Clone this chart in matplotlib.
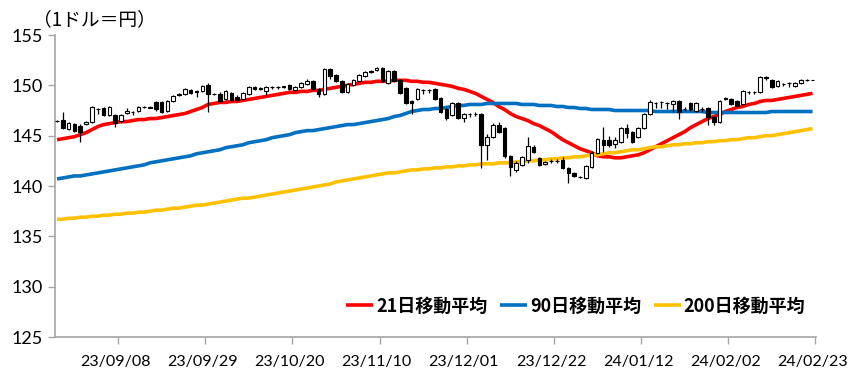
import matplotlib
matplotlib.use("Agg")
import matplotlib.pyplot as plt
import numpy as np
import pandas as pd

# trading days shown (weekdays)
dates = pd.bdate_range("2023-08-25", "2024-02-23")

# daily candles: open, high, low, close (yen per dollar)
opens = [146.5, 146.6, 145.7, 146.2, 146.0, 146.2, 146.4, 147.6, 147.7, 147.1,
         147.1, 146.5, 147.3, 147.4, 147.5, 147.8, 147.8, 148.3, 148.3, 147.5,
         148.4, 149.0, 149.1, 149.5, 149.4, 149.4, 150.0, 149.1, 149.1, 148.6,
         149.2, 148.8, 148.6, 149.1, 149.8, 149.6, 149.4, 149.8, 149.8, 149.8,
         150.0, 149.5, 149.8, 150.1, 150.4, 149.6, 149.1, 151.6, 151.0, 150.4,
         149.3, 150.0, 150.4, 150.9, 151.3, 151.5, 151.7, 150.2, 151.4, 150.5,
         149.7, 148.4, 148.6, 149.5, 149.5, 149.6, 148.7, 147.6, 147.1, 148.2,
         146.8, 147.2, 147.2, 147.2, 144.1, 144.9, 146.1, 145.8, 143.0, 141.6,
         142.1, 142.6, 143.9, 142.8, 142.2, 142.5, 142.5, 142.6, 141.8, 141.3,
         140.9, 140.8, 141.9, 143.3, 144.6, 144.6, 144.2, 144.4, 145.8, 145.4,
         144.9, 145.8, 147.2, 148.2, 148.3, 148.2, 148.1, 148.4, 147.6, 148.2,
         147.5, 147.6, 147.7, 146.9, 146.4, 148.6, 148.6, 148.4, 148.1, 149.3,
         149.3, 149.3, 150.8, 150.5, 149.9, 150.1, 150.2, 149.9, 150.2, 150.5,
         150.5]
highs = [146.6, 147.4, 146.4, 146.3, 146.2, 146.5, 147.9, 147.7, 147.8, 147.9,
         147.2, 147.2, 147.7, 147.5, 147.9, 147.9, 147.9, 148.4, 148.4, 148.5,
         149.0, 149.2, 149.7, 149.6, 149.5, 150.0, 150.2, 149.2, 149.3, 149.5,
         149.3, 149.0, 149.3, 149.9, 149.9, 149.8, 149.9, 149.9, 149.9, 149.9,
         150.1, 149.9, 150.3, 150.6, 150.5, 149.7, 151.7, 151.7, 151.1, 150.5,
         150.2, 150.6, 151.1, 151.4, 151.5, 151.8, 151.8, 151.5, 151.5, 150.6,
         149.8, 148.5, 149.7, 149.6, 149.6, 149.7, 148.8, 147.7, 148.3, 148.3,
         147.3, 147.3, 147.4, 147.3, 145.2, 146.3, 146.4, 145.9, 143.1, 142.5,
         143.0, 144.9, 144.1, 142.9, 142.5, 142.7, 142.7, 142.9, 141.9, 141.4,
         141.0, 142.1, 143.5, 144.8, 145.9, 145.0, 144.9, 145.9, 146.2, 145.5,
         145.9, 147.3, 148.5, 148.3, 148.4, 148.3, 148.5, 148.5, 147.8, 148.3,
         148.3, 147.8, 147.8, 147.0, 148.5, 148.8, 148.7, 148.5, 149.5, 149.4,
         149.4, 150.9, 150.9, 150.6, 150.5, 150.2, 150.3, 150.3, 150.6, 150.6,
         150.5]
lows = [146.4, 145.7, 145.6, 145.4, 144.4, 146.1, 146.3, 147.2, 147.0, 147.0,
        145.9, 146.3, 147.2, 147.1, 147.4, 147.7, 147.7, 147.5, 147.3, 147.4,
        148.3, 148.9, 149.0, 149.1, 148.8, 149.3, 147.4, 149.0, 148.3, 148.5,
        148.4, 148.3, 148.5, 149.0, 149.5, 149.5, 149.0, 149.6, 149.6, 149.7,
        149.5, 149.3, 149.7, 150.0, 149.5, 148.8, 149.0, 150.6, 150.3, 149.2,
        149.2, 149.9, 150.3, 150.8, 151.2, 151.4, 150.3, 150.1, 150.3, 149.1,
        148.1, 147.2, 148.5, 149.1, 149.2, 148.5, 147.3, 146.6, 147.0, 146.7,
        146.4, 146.9, 147.0, 141.8, 142.6, 144.8, 145.3, 142.8, 141.0, 141.4,
        142.0, 142.3, 143.3, 142.0, 142.1, 142.3, 142.3, 141.7, 140.3, 140.9,
        140.8, 140.7, 141.8, 143.2, 143.4, 143.9, 143.8, 144.3, 144.8, 144.3,
        144.8, 145.7, 147.1, 147.7, 147.7, 147.6, 147.4, 146.7, 147.5, 147.5,
        147.4, 147.4, 146.1, 146.1, 146.3, 148.5, 148.0, 147.8, 148.0, 149.1,
        149.1, 149.2, 150.5, 149.7, 149.8, 149.9, 149.8, 149.8, 150.1, 150.4,
        150.5]
closes = [146.5, 145.8, 146.3, 145.5, 145.4, 146.4, 147.8, 147.6, 147.1, 147.8,
          146.3, 147.1, 147.5, 147.4, 147.8, 147.8, 147.7, 147.6, 147.4, 148.4,
          148.9, 149.1, 149.6, 149.2, 149.3, 149.9, 149.1, 149.1, 148.4, 149.4,
          148.5, 148.5, 149.2, 149.8, 149.6, 149.7, 149.8, 149.8, 149.8, 149.9,
          149.6, 149.8, 150.2, 150.4, 149.6, 149.1, 151.6, 150.9, 150.4, 149.3,
          150.1, 150.5, 151.0, 151.3, 151.4, 151.7, 150.4, 151.4, 150.4, 149.2,
          148.2, 148.2, 149.6, 149.5, 149.5, 148.6, 147.4, 146.8, 148.2, 146.8,
          147.2, 147.2, 147.2, 144.1, 144.9, 146.1, 145.4, 143.0, 141.9, 142.3,
          142.9, 144.0, 143.4, 142.1, 142.4, 142.5, 142.5, 141.8, 141.3, 141.0,
          140.9, 142.0, 143.3, 144.7, 144.1, 144.1, 144.6, 145.8, 145.3, 144.4,
          145.8, 147.2, 148.3, 148.2, 148.3, 148.2, 148.4, 147.4, 147.6, 147.6,
          148.2, 147.6, 146.9, 146.4, 148.4, 148.7, 148.1, 147.9, 149.4, 149.3,
          149.3, 150.8, 150.7, 149.8, 150.4, 150.1, 150.2, 150.2, 150.5, 150.5,
          150.5]

ma21 = [144.6, 144.7, 144.8, 144.9, 145.1, 145.3, 145.6, 145.9, 146.1, 146.2,
        146.3, 146.4, 146.4, 146.5, 146.6, 146.6, 146.7, 146.7, 146.8, 146.9,
        147.0, 147.1, 147.2, 147.4, 147.6, 147.8, 148.1, 148.2, 148.3, 148.3,
        148.4, 148.4, 148.5, 148.6, 148.7, 148.8, 148.9, 149.0, 149.1, 149.2,
        149.3, 149.3, 149.4, 149.4, 149.5, 149.5, 149.6, 149.7, 149.8, 149.9,
        150.0, 150.1, 150.2, 150.3, 150.3, 150.4, 150.4, 150.4, 150.5, 150.5,
        150.5, 150.4, 150.4, 150.3, 150.3, 150.2, 150.1, 150.0, 149.9, 149.7,
        149.6, 149.4, 149.2, 148.9, 148.6, 148.3, 147.9, 147.6, 147.2, 146.9,
        146.7, 146.5, 146.2, 146.0, 145.7, 145.4, 145.0, 144.6, 144.3, 144.0,
        143.7, 143.5, 143.3, 143.0, 142.9, 142.9, 142.8, 142.8, 142.9, 143.0,
        143.1, 143.3, 143.6, 143.9, 144.2, 144.5, 144.8, 145.1, 145.4, 145.8,
        146.1, 146.4, 146.7, 146.9, 147.1, 147.4, 147.6, 147.8, 147.9, 148.1,
        148.2, 148.4, 148.5, 148.5, 148.6, 148.7, 148.8, 148.9, 149.0, 149.1,
        149.2]
ma90 = [140.7, 140.8, 140.9, 141.0, 141.0, 141.1, 141.2, 141.3, 141.4, 141.5,
        141.6, 141.7, 141.8, 141.9, 142.0, 142.1, 142.3, 142.4, 142.5, 142.6,
        142.7, 142.8, 142.9, 143.0, 143.2, 143.3, 143.4, 143.5, 143.6, 143.8,
        143.9, 144.0, 144.1, 144.3, 144.4, 144.5, 144.6, 144.8, 144.9, 145.0,
        145.1, 145.3, 145.4, 145.5, 145.5, 145.6, 145.7, 145.8, 145.9, 146.0,
        146.1, 146.1, 146.2, 146.3, 146.4, 146.5, 146.6, 146.7, 146.9, 147.0,
        147.2, 147.4, 147.5, 147.6, 147.6, 147.7, 147.7, 147.8, 147.9, 148.0,
        148.0, 148.1, 148.1, 148.1, 148.2, 148.2, 148.2, 148.2, 148.2, 148.2,
        148.1, 148.1, 148.1, 148.0, 148.0, 148.0, 147.9, 147.9, 147.8, 147.8,
        147.7, 147.7, 147.6, 147.6, 147.6, 147.6, 147.5, 147.5, 147.5, 147.5,
        147.5, 147.5, 147.5, 147.4, 147.4, 147.4, 147.4, 147.4, 147.4, 147.4,
        147.4, 147.4, 147.3, 147.3, 147.3, 147.3, 147.3, 147.3, 147.3, 147.3,
        147.3, 147.3, 147.3, 147.4, 147.4, 147.4, 147.4, 147.4, 147.4, 147.4,
        147.4]
ma200 = [136.7, 136.7, 136.8, 136.8, 136.9, 136.9, 137.0, 137.0, 137.1, 137.1,
         137.2, 137.2, 137.3, 137.3, 137.4, 137.4, 137.5, 137.6, 137.6, 137.7,
         137.8, 137.8, 137.9, 138.0, 138.1, 138.1, 138.2, 138.3, 138.4, 138.5,
         138.6, 138.7, 138.8, 138.8, 138.9, 139.0, 139.1, 139.2, 139.3, 139.4,
         139.5, 139.6, 139.7, 139.8, 139.9, 140.0, 140.1, 140.2, 140.4, 140.5,
         140.6, 140.7, 140.8, 140.9, 141.0, 141.1, 141.2, 141.3, 141.3, 141.4,
         141.5, 141.6, 141.6, 141.7, 141.7, 141.8, 141.8, 141.9, 141.9, 142.0,
         142.0, 142.1, 142.1, 142.2, 142.2, 142.2, 142.3, 142.3, 142.3, 142.4,
         142.4, 142.5, 142.5, 142.6, 142.6, 142.7, 142.7, 142.8, 142.8, 142.9,
         142.9, 143.0, 143.1, 143.1, 143.2, 143.3, 143.3, 143.4, 143.5, 143.6,
         143.6, 143.7, 143.8, 143.9, 143.9, 144.0, 144.1, 144.1, 144.2, 144.2,
         144.3, 144.3, 144.4, 144.4, 144.5, 144.5, 144.6, 144.6, 144.7, 144.8,
         144.8, 144.9, 145.0, 145.0, 145.1, 145.2, 145.3, 145.4, 145.5, 145.6,
         145.7]

ma_labels = ["21日移動平均", "90日移動平均", "200日移動平均"]
ma_colors = ["#FF0000", "#0070C0", "#FFC000"]
label_every = 15
first_label = 10

jp = ["Noto Sans CJK JP", "DejaVu Sans"]
num_font = "Lato"

fig = plt.figure(figsize=(8.56, 3.85), dpi=100)
ax = fig.add_axes([55 / 856, 1 - 337 / 385, 761 / 856, 302 / 385])

x = np.arange(len(dates))
o = np.array(opens)
c = np.array(closes)

for vals, lab, col in zip([ma21, ma90, ma200], ma_labels, ma_colors):
    ax.plot(x, vals, color=col, lw=2.6, label=lab, zorder=2, solid_capstyle="butt")

# candles
ax.vlines(x, lows, highs, color="black", lw=0.9, zorder=3)
up = c >= o
ax.bar(x, np.abs(c - o), bottom=np.minimum(o, c), width=0.62,
       color=np.where(up, "white", "black"), edgecolor="black", linewidth=0.8, zorder=4)

ax.set_ylim(125, 155)
ax.set_yticks(np.arange(125, 156, 5))
ax.set_xlim(-0.35, 130.6)

lab_idx = np.arange(first_label, len(dates), label_every)
ax.set_xticks(lab_idx)
ax.set_xticklabels([dates[i].strftime("%y/%m/%d") for i in lab_idx])
ax.set_xticks(lab_idx + 0.5, minor=True)
ax.tick_params(axis="x", which="major", length=0, pad=13, labelsize=11.5)
ax.tick_params(axis="x", which="minor", length=5, color="#a6a6a6", width=1)
ax.tick_params(axis="y", length=5, color="#a6a6a6", width=1, labelsize=13, pad=4)
for t in ax.get_xticklabels() + ax.get_yticklabels():
    t.set_fontfamily(num_font)

for s in ["top", "right"]:
    ax.spines[s].set_visible(False)
for s in ["left", "bottom"]:
    ax.spines[s].set_color("#a6a6a6")
    ax.spines[s].set_linewidth(1.2)

leg = ax.legend(loc="center right", bbox_to_anchor=(0.995, 0.103), ncol=3, frameon=False,
                prop={"family": jp, "weight": "bold", "size": 13},
                handlelength=1.5, handletextpad=0.15, columnspacing=0.7, borderaxespad=0)

fig.text(33 / 856, 1 - 20 / 385, "（1ドル＝円）", fontfamily=jp, fontsize=13.5, va="center", ha="left")

fig.savefig("out.png", dpi=100)
